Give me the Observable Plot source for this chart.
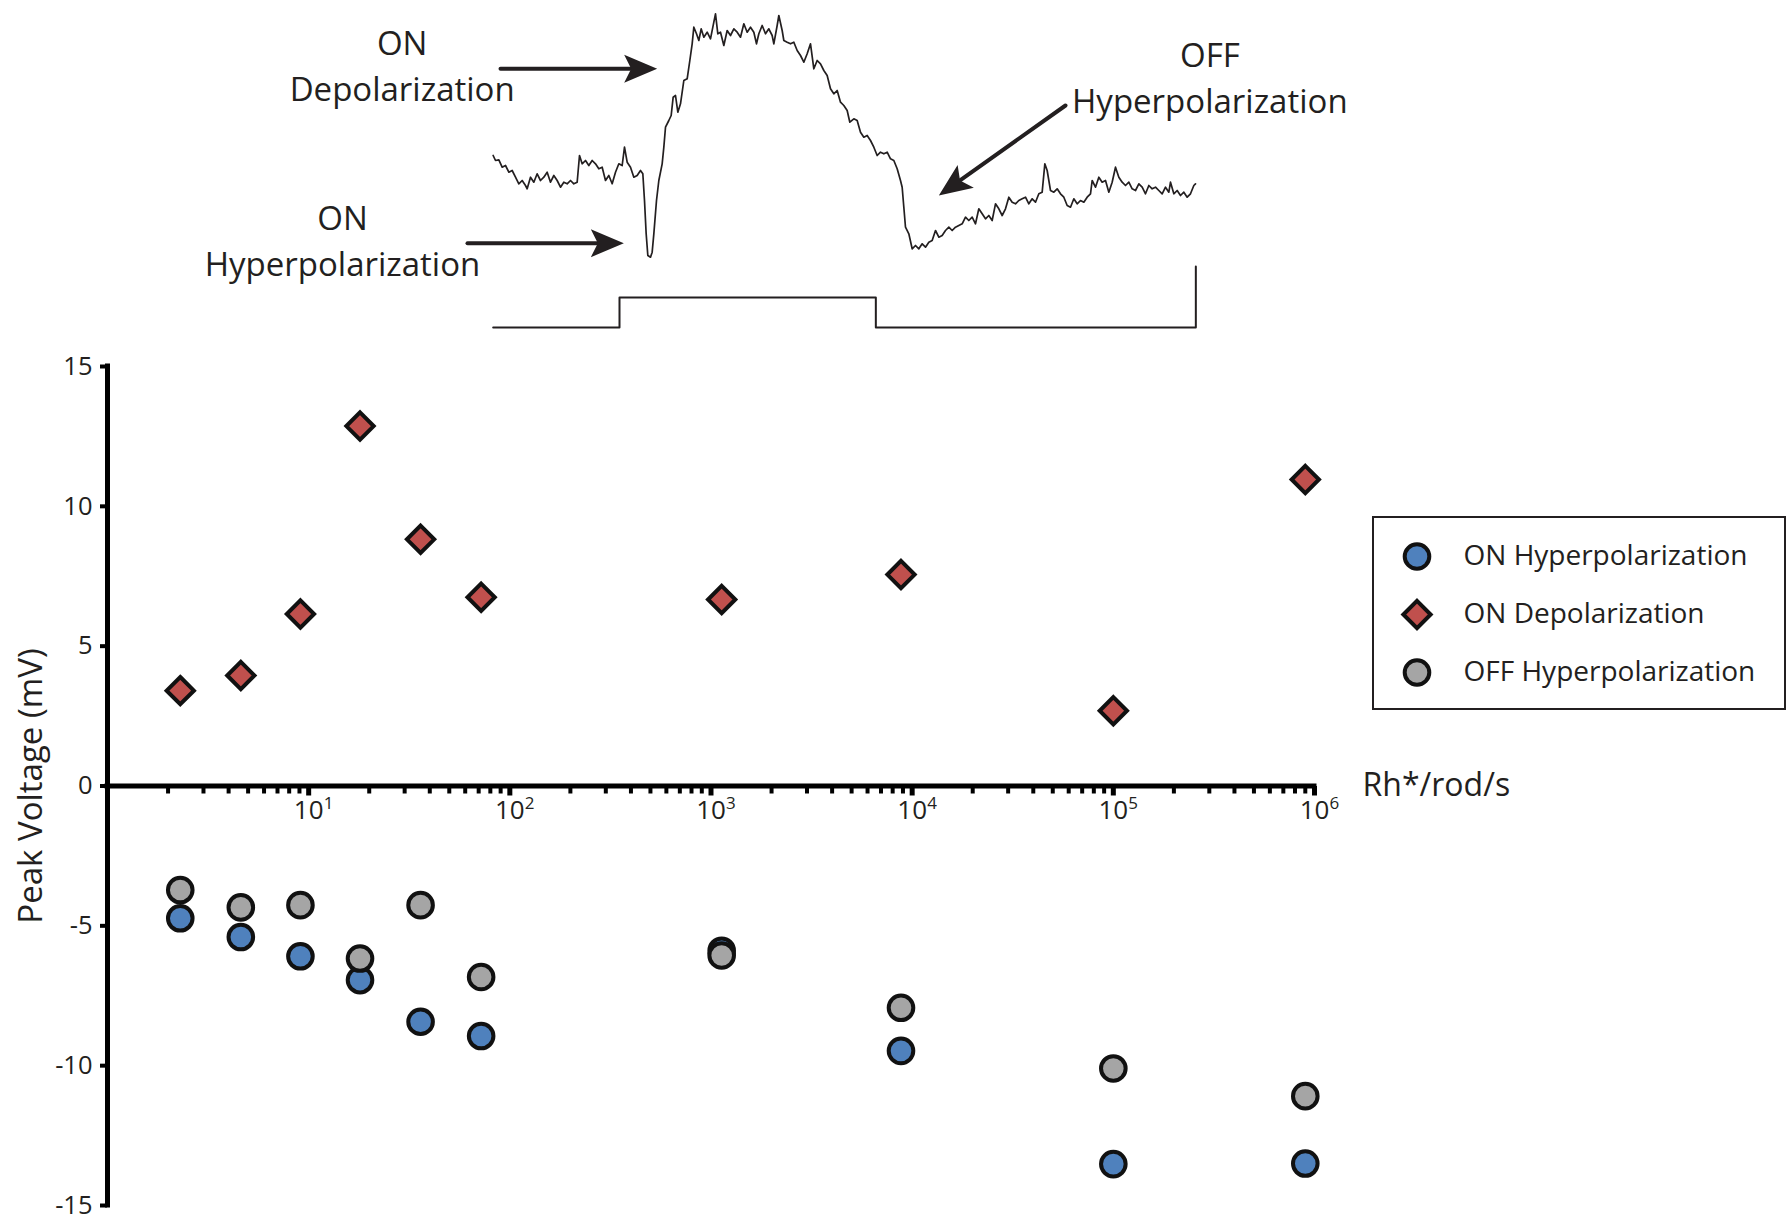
<!DOCTYPE html>
<html><head><meta charset="utf-8">
<script src="https://cdn.jsdelivr.net/npm/d3@7"></script>
<script src="https://cdn.jsdelivr.net/npm/@observablehq/plot@0.6"></script>
<style>
html,body{margin:0;padding:0;background:#fff;overflow:hidden}
#wrap{position:relative;width:1787px;height:1222px;background:#fff;font-family:"Open Sans",sans-serif}
#wrap svg{display:block}
#legend{position:absolute;left:1372px;top:516px;width:414px;height:194px;border:2px solid #231f20;box-sizing:border-box;background:#fff}
</style></head><body>
<div id="wrap"><div id="trace"></div><div id="main"></div><div id="legend"></div></div>
<script>
// ---- Scatter data (light intensity in Rh*/rod/s, peak voltage in mV) ----
const intensity = [2.3, 4.6, 9.1, 18, 36, 72, 1130, 8800, 100000, 900000];
const onHyper  = [-4.73, -5.40, -6.09, -6.94, -8.43, -8.94, -5.89, -9.47, -13.52, -13.50];
const onDepol  = [3.41, 3.95, 6.15, 12.87, 8.82, 6.75, 6.67, 7.56, 2.69, 10.96];
const offHyper = [-3.72, -4.34, -4.26, -6.17, -4.26, -6.83, -6.06, -7.93, -10.10, -11.09];
const seriesNames = ["ON Hyperpolarization", "ON Depolarization", "OFF Hyperpolarization"];
const seriesColors = ["#4f81bd", "#c0504d", "#a5a5a5"];
const seriesSymbols = ["circle", "diamond2", "circle"];
const yTicks = [-15, -10, -5, 0, 5, 10, 15];
const xTickExponents = [1, 2, 3, 4, 5, 6];
const xDomain = [1, 1e6];
const yDomain = [-15, 15];
const xLabel = "Rh*/rod/s";
const yLabel = "Peak Voltage (mV)";

// ---- Example voltage trace: [time in samples @384 Hz, voltage in mV] ----
const trace = [[2,1.0],[9,0.5],[19,0.57],[29,-0.17],[39,0],[49,-0.67],[59,-0.5],[69,-1.17],[79,-1.83],[89,-1.5],[99,-2.0],[104,-2.33],[114,-1.17],[124,-1.67],[134,-0.83],[144,-1.5],[154,-1.17],[164,-0.67],[174,-1.67],[184,-1.0],[194,-1.5],[204,-2.17],[214,-1.67],[224,-1.83],[234,-1.5],[244,-1.83],[254,-1.67],[261,1.0],[269,0.17],[279,0.5],[289,0],[299,0.5],[309,0.17],[319,-0.33],[329,-0.17],[339,-1.5],[349,-1.0],[359,-1.83],[369,-0.67],[379,0.17],[389,0],[396,1.83],[404,0.33],[414,-0.17],[424,-1.17],[434,-1.0],[444,-0.5],[451,-0.83],[456,-3.5],[461,-6.83],[466,-9.0],[474,-9.17],[479,-8.67],[484,-6.83],[492,-3.5],[499,-1.5],[509,0.17],[514,1.83],[519,3.83],[529,4.5],[536,5.0],[542,6.83],[549,7.0],[556,5.33],[564,6.17],[574,8.5],[584,8.67],[592,10.5],[599,12.17],[604,13.83],[612,13.17],[619,12.5],[626,13.67],[634,12.83],[644,13.33],[654,12.67],[664,14.33],[669,15.17],[676,13.17],[684,13.33],[694,12.0],[704,13.5],[714,13.0],[724,13.67],[734,13.33],[744,12.83],[754,14.17],[764,13.33],[774,13.83],[784,13.33],[792,12.17],[799,13.17],[809,14.0],[819,13.17],[829,13.67],[839,13.0],[844,12.17],[854,14.0],[859,15.0],[869,13.5],[874,12.5],[884,12.33],[894,12.17],[904,12.33],[914,11.5],[924,11.0],[934,10.33],[944,11.17],[954,12.17],[964,9.67],[974,10.5],[984,10.17],[994,9.5],[1004,9.0],[1014,7.67],[1024,7.17],[1034,7.5],[1044,6.33],[1054,6.0],[1064,5.5],[1072,4.33],
[1084,4.67],[1094,4.5],[1104,3.33],[1114,2.83],[1124,3.0],[1134,2.5],[1144,1.83],[1154,1.0],[1164,1.33],[1174,1.17],[1184,1.33],[1194,0.67],[1204,0.5],[1214,-0.33],[1224,-1.5],[1229,-2.17],[1234,-4.17],[1239,-6.17],[1249,-6.83],[1259,-8.33],[1269,-8.0],[1279,-8.33],[1289,-7.83],[1299,-8.17],[1309,-7.67],[1319,-7.5],[1329,-6.5],[1339,-7.17],[1349,-7.0],[1359,-6.5],[1369,-6.17],[1379,-6.5],[1389,-6.17],[1399,-6.0],[1409,-5.83],[1419,-5.17],[1429,-5.5],[1439,-5.17],[1449,-5.83],[1459,-4.33],[1469,-4.83],[1479,-5.33],[1489,-5.0],[1499,-5.5],[1509,-3.83],[1519,-4.33],[1529,-5.0],[1539,-4.33],[1549,-3.17],[1559,-3.67],[1569,-3.83],[1579,-3.5],[1589,-3.33],[1599,-3.17],[1609,-3.83],[1619,-3.33],[1629,-3.67],[1639,-2.83],[1649,-2.67],[1657,0.17],[1664,-0.5],[1674,-2.5],[1684,-2.67],[1694,-2.33],[1704,-2.83],[1714,-3.17],[1724,-4.0],[1734,-4.17],[1744,-3.33],[1754,-3.83],[1764,-3.5],[1774,-3.67],[1784,-3.17],[1794,-2.83],[1799,-1.5],[1809,-2.17],[1819,-1.17],[1829,-1.67],[1839,-1.5],[1849,-2.67],[1859,-1.67],[1869,-0.17],[1879,-1.17],[1889,-1.67],[1899,-2.0],[1909,-1.67],[1919,-2.33],[1929,-2.5],[1939,-1.83],[1949,-2.17],[1959,-2.83],[1969,-2.0],[1979,-2.33],[1989,-2.17],[1999,-2.5],[2009,-2.83],[2019,-2.17],[2029,-2.67],[2034,-1.67],[2044,-2.83],[2054,-2.5],[2064,-3.0],[2074,-2.67],[2084,-3.17],[2094,-2.83],[2104,-2.0],[2109,-1.83]];
// Light stimulus monitor (same units), ending in a vertical bar
const stimSample = [2, 381, 381, 1150, 1150, 2110, 2110];
const stimLevel = [-16.2, -16.2, -13.2, -13.2, -16.2, -16.2, -10.1];
// Annotations on the trace (data units: samples, mV)
const annotText = ["ON\nDepolarization", "ON\nHyperpolarization", "OFF\nHyperpolarization"];
const annotSample = [-271, -450, 2152];
const annotMv = [10.25, -7.3, 9.05];
const arrowFrom = [[24, 9.67], [-75, -7.77], [1719, 6.0]];
const arrowTo = [[494, 9.67], [394, -7.77], [1339, -3.0]];

const ink = "#231f20";
const font = "Open Sans";

// ---------- Trace plot ----------
const traceW = 1787, traceH = 335;
const traceXDomain = [-1476, 3885], traceYDomain = [-17, 16.5];
const kx = traceW / (traceXDomain[1] - traceXDomain[0]);
const ky = traceH / (traceYDomain[1] - traceYDomain[0]);
const arrows = arrowFrom.map((f, i) => {
  const t = arrowTo[i];
  return {x1: f[0], y1: f[1], x2: t[0], y2: t[1],
    angle: Math.atan2(-(t[1] - f[1]) * ky, (t[0] - f[0]) * kx) * 180 / Math.PI};
});
const arrowHead = {draw(ctx) { ctx.moveTo(0, 0); ctx.lineTo(-33, -14); ctx.lineTo(-26, 0); ctx.lineTo(-33, 14); ctx.closePath(); }};
const traceData = trace.map(([t, v]) => ({t, v}));
const stimData = stimSample.map((t, i) => ({t, v: stimLevel[i]}));
const annots = annotText.map((text, i) => ({text, t: annotSample[i], v: annotMv[i]}));

const tracePlot = Plot.plot({
  width: traceW, height: traceH, margin: 0,
  x: {domain: traceXDomain, axis: null},
  y: {domain: traceYDomain, axis: null},
  style: {fontFamily: font, background: "transparent", color: ink},
  marks: [
    Plot.line(stimData, {x: "t", y: "v", stroke: ink, strokeWidth: 2}),
    Plot.line(traceData, {x: "t", y: "v", stroke: ink, strokeWidth: 1.7, strokeLinejoin: "round"}),
    Plot.arrow(arrows, {x1: "x1", y1: "y1", x2: "x2", y2: "y2", headLength: 0, insetEnd: 20, stroke: ink, strokeWidth: 4}),
    Plot.dot(arrows, {x: "x2", y: "y2", symbol: arrowHead, rotate: "angle", fill: ink, stroke: "none"}),
    Plot.text(annots, {x: "t", y: "v", text: "text", fontSize: 33, lineHeight: 1.39, textAnchor: "middle", lineAnchor: "middle", fill: ink})
  ]
});
document.getElementById("trace").appendChild(tracePlot);

// ---------- Main scatter ----------
const mk = (vals) => intensity.map((x, i) => ({x, y: vals[i]}));
const seriesValues = [onHyper, onDepol, offHyper];
const minorTicks = [];
for (let e = 0; e < 6; e++) for (let m = 2; m <= 9; m++) minorTicks.push(m * 10 ** e);
const majorTicks = xTickExponents.map(e => 10 ** e);
const minorTick = {draw(ctx) { ctx.rect(-2, 0, 4, 7.5); }};
const majorTick = {draw(ctx) { ctx.rect(-2.5, 0, 5, 9.5); }};
const dotStyle = {r: 12.3, stroke: "#111", strokeWidth: 4, strokeLinejoin: "miter"};
const drawOrder = [0, 2, 1];

const mainPlot = Plot.plot({
  width: 1787, height: 887,
  marginLeft: 107, marginRight: 473, marginTop: 31, marginBottom: 17,
  x: {type: "log", domain: xDomain, axis: null},
  y: {domain: yDomain, axis: null},
  style: {fontFamily: font, background: "transparent", color: ink},
  marks: [
    Plot.dot(minorTicks, {x: d => d, y: () => 0, symbol: minorTick, fill: "#000", stroke: "none"}),
    Plot.dot(majorTicks, {x: d => d, y: () => 0, symbol: majorTick, fill: "#000", stroke: "none"}),
    Plot.ruleY([{y: 0, x1: xDomain[0], x2: xDomain[1]}], {y: "y", x1: "x1", x2: "x2", stroke: "#000", strokeWidth: 5, strokeLinecap: "square"}),
    Plot.ruleX([{x: xDomain[0], y1: yDomain[0], y2: yDomain[1]}], {x: "x", y1: "y1", y2: "y2", stroke: "#000", strokeWidth: 5, strokeLinecap: "square"}),
    Plot.axisY(yTicks, {tickSize: 7, tickPadding: 8, strokeWidth: 4, stroke: "#000", fill: ink, fontSize: 25.5, tickFormat: d => String(d), label: null}),
    Plot.text(xTickExponents, {x: e => 10 ** e, y: () => 0, text: () => "10", dy: 25, fontSize: 26, textAnchor: "middle", lineAnchor: "middle", fill: ink}),
    Plot.text(xTickExponents, {x: e => 10 ** e, y: () => 0, text: e => String(e), dx: 15, dy: 18, fontSize: 17, textAnchor: "start", lineAnchor: "middle", fill: ink}),
    Plot.text([xLabel], {x: () => xDomain[1], y: () => 0, text: d => d, dx: 48, fontSize: 32, textAnchor: "start", lineAnchor: "middle", fill: ink}),
    Plot.text([yLabel], {frameAnchor: "left", text: d => d, dx: -76, rotate: -90, fontSize: 33, textAnchor: "middle", lineAnchor: "middle", fill: ink}),
    ...drawOrder.map(i => Plot.dot(mk(seriesValues[i]), {x: "x", y: "y", fill: seriesColors[i], symbol: seriesSymbols[i], ...dotStyle}))
  ]
});
document.getElementById("main").appendChild(mainPlot);

// ---------- Legend ----------
const legendPlot = Plot.plot({
  width: 410, height: 190, margin: 0,
  y: {type: "point", domain: seriesNames, range: [37, 154], padding: 0, axis: null},
  style: {fontFamily: font, background: "transparent", color: ink},
  marks: [
    ...seriesNames.map((name, i) => Plot.dot([name], {y: d => d, frameAnchor: "left", dx: 42.5, fill: seriesColors[i], symbol: seriesSymbols[i], ...dotStyle})),
    Plot.text(seriesNames, {y: d => d, text: d => d, frameAnchor: "left", dx: 89, textAnchor: "start", lineAnchor: "middle", fontSize: 28, fill: ink})
  ]
});
document.getElementById("legend").appendChild(legendPlot);
</script></body></html>
